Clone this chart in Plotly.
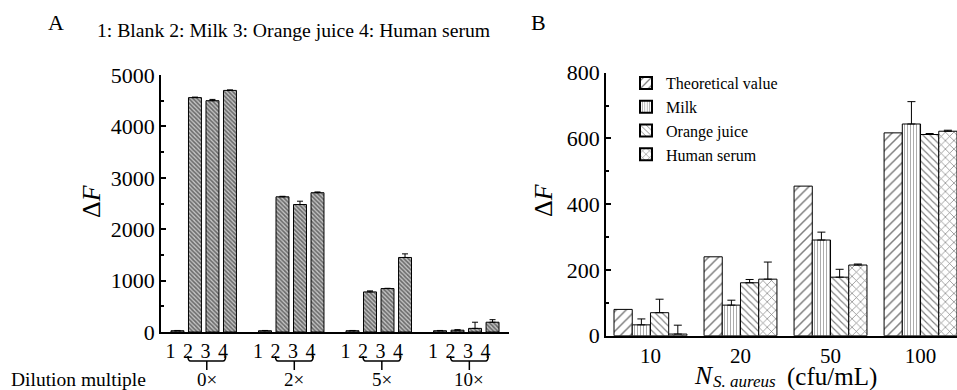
import plotly.graph_objects as go

W, H = 957, 390
FONT = "Liberation Serif, Times New Roman, DejaVu Serif, serif"

# ---------------- Panel A data ----------------
groups_A = ["0×", "2×", "5×", "10×"]
samples_A = ["1", "2", "3", "4"]
vals_0x = [25, 4560, 4500, 4700]
vals_2x = [25, 2630, 2480, 2710]
vals_5x = [25, 780, 845, 1450]
vals_10x = [25, 35, 70, 190]
err_0x = [5, 10, 25, 10]
err_2x = [5, 10, 65, 15]
err_5x = [5, 20, 5, 70]
err_10x = [5, 10, 120, 50]
values_A = [vals_0x, vals_2x, vals_5x, vals_10x]
errors_A = [err_0x, err_2x, err_5x, err_10x]
legend_text_A = "1: Blank 2: Milk 3: Orange juice 4: Human serum"

# ---------------- Panel B data ----------------
conc_B = ["10", "20", "50", "100"]
series_B = ["Theoretical value", "Milk", "Orange juice", "Human serum"]
theo_B = [80, 240, 455, 617]
milk_B = [33, 93, 291, 644]
orange_B = [70, 161, 178, 612]
serum_B = [5, 172, 215, 622]
theo_err = [0, 0, 0, 0]
milk_err = [18, 15, 24, 68]
orange_err = [41, 10, 24, 3]
serum_err = [27, 52, 3, 3]
values_B = [theo_B, milk_B, orange_B, serum_B]
errors_B = [theo_err, milk_err, orange_err, serum_err]
patterns_B = ["/", "|", "\\", "x"]
psize_B = [7, 3, 5, 6]

def px_x(p):
    return p / W

def px_y(p):
    return (H - p) / H

fig = go.Figure()

# Panel A bars
GSTEP = 5
xA, yA, eA = [], [], []
for gi, (vals, errs) in enumerate(zip(values_A, errors_A)):
    for si in range(len(samples_A)):
        xA.append(gi * GSTEP + si)
        yA.append(vals[si])
        eA.append(errs[si])

fig.add_trace(go.Bar(
    x=xA, y=yA, width=0.74, xaxis="x", yaxis="y", showlegend=False,
    marker=dict(color="#c4c4c4", line=dict(color="black", width=1),
                pattern=dict(shape="\\", size=3, solidity=0.55, fgcolor="#111111", bgcolor="#c4c4c4")),
    error_y=dict(type="data", array=eA, arrayminus=[0] * len(eA), symmetric=False,
                 color="black", thickness=1, width=3),
))

# Panel B bars
xB = list(range(len(conc_B)))
for k, name in enumerate(series_B):
    fig.add_trace(go.Bar(
        x=xB, y=values_B[k], name=name, xaxis="x2", yaxis="y2",
        marker=dict(color="white", line=dict(color="black", width=1),
                    pattern=dict(shape=patterns_B[k], size=psize_B[k], solidity=0.22,
                                 fgcolor="black", bgcolor="white")),
        error_y=dict(type="data", array=errors_B[k], arrayminus=[0] * 4, symmetric=False,
                     color="black", thickness=1, width=4, visible=any(errors_B[k])),
    ))

LABEL_OFF = 0.4
tickvals_A = [gi * GSTEP + si - LABEL_OFF for gi in range(len(groups_A)) for si in range(len(samples_A))]
ticktext_A = [s for _ in groups_A for s in samples_A]

shapes = []
annotations = []
brace_top = px_y(356)
brace_mid = px_y(361)
brace_bot = px_y(370)
for gi, g in enumerate(groups_A):
    x0 = gi * GSTEP + 1 - LABEL_OFF
    x1 = gi * GSTEP + 3 - LABEL_OFF + 0.15
    xm = (x0 + x1) / 2
    d = 0.15
    path = (f"M {x0},{brace_top} Q {x0},{brace_mid} {x0+d},{brace_mid} "
            f"L {x1-d},{brace_mid} Q {x1},{brace_mid} {x1},{brace_top} "
            f"M {xm},{brace_mid} L {xm},{brace_bot}")
    shapes.append(dict(type="path", xref="x", yref="paper", path=path,
                       line=dict(color="black", width=1.5)))
    annotations.append(dict(text=g, xref="x", yref="paper", x=xm, y=px_y(379),
                            xanchor="center", yanchor="middle", showarrow=False,
                            font=dict(family=FONT, size=19, color="black")))

def txt(text, x, y, size, xanchor="center", angle=0):
    return dict(text=text, xref="paper", yref="paper", x=px_x(x), y=px_y(y), showarrow=False,
                xanchor=xanchor, yanchor="middle", textangle=angle,
                font=dict(family=FONT, size=size, color="black"))

annotations += [
    txt("A", 56, 22, 22),
    txt("B", 538, 22, 22),
    txt(legend_text_A, 95, 30, 19.7, "left"),
    txt("Dilution multiple", 9, 379, 19.5, "left"),
    txt("Δ<i>F</i>", 92, 201, 26, angle=-90),
    txt("Δ<i>F</i>", 544, 200, 26, angle=-90),
    # x-axis title of panel B: N with italic subscript "S. aureus", then unit
    txt("<i>N</i>", 692, 375.5, 25.5, "left"),
    txt("<i>S. aureus</i>", 711, 381, 17, "left"),
    txt("(cfu/mL)", 785, 376.5, 25, "left"),
]

axis_common = dict(showgrid=False, zeroline=False, showline=True, linecolor="black", linewidth=1.5,
                   automargin=False)
ytickfont = dict(family=FONT, size=22, color="black")
xtickfontA = dict(family=FONT, size=20, color="black")
xtickfontB = dict(family=FONT, size=21, color="black")

fig.update_layout(
    width=W, height=H, margin=dict(l=0, r=0, t=0, b=0, pad=0, autoexpand=False),
    paper_bgcolor="white", plot_bgcolor="white",
    font=dict(family=FONT, color="black"),
    barmode="group", bargap=0.19, bargroupgap=0,
    xaxis=dict(domain=[px_x(161), px_x(509)], range=[-0.94, 18.94], anchor="y",
               tickvals=tickvals_A, ticktext=ticktext_A, ticks="", tickfont=xtickfontA, **axis_common),
    yaxis=dict(domain=[px_y(332), px_y(75)], range=[0, 5000], anchor="x",
               tickvals=[0, 1000, 2000, 3000, 4000, 5000], ticks="inside", ticklen=5,
               tickcolor="black", tickwidth=1.5, tickfont=ytickfont,
               minor=dict(dtick=500, tick0=0, ticks="inside", ticklen=3, tickcolor="black", showgrid=False),
               **axis_common),
    xaxis2=dict(domain=[px_x(606), 1.0], range=[-0.494, 3.405], anchor="y2",
                tickvals=xB, ticktext=conc_B, ticks="", tickfont=xtickfontB, **axis_common),
    yaxis2=dict(domain=[px_y(335.7), px_y(72.7)], range=[0, 800], anchor="x2",
                tickvals=[0, 200, 400, 600, 800], ticks="inside", ticklen=5,
                tickcolor="black", tickwidth=1.5, tickfont=ytickfont,
                minor=dict(dtick=100, tick0=0, ticks="inside", ticklen=3, tickcolor="black", showgrid=False),
                **axis_common),
    legend=dict(x=px_x(626), y=px_y(66), xanchor="left", yanchor="top",
                bgcolor="rgba(0,0,0,0)", font=dict(family=FONT, size=16, color="black"),
                tracegroupgap=0, itemsizing="constant"),
    shapes=shapes, annotations=annotations,
)

fig.write_html("out.html")
